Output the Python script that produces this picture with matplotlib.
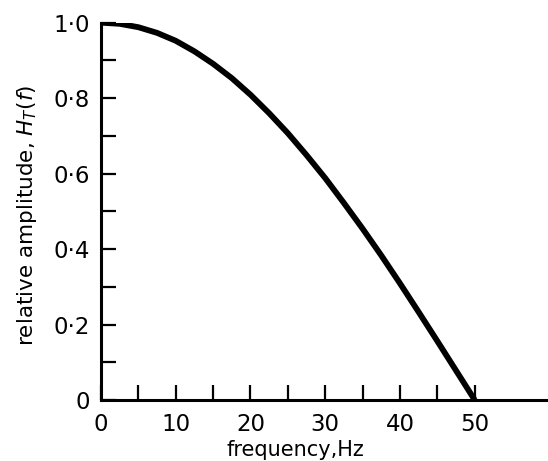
import matplotlib
matplotlib.use("Agg")
import matplotlib.pyplot as plt
from matplotlib.ticker import FixedLocator, MultipleLocator, FuncFormatter

# frequency (Hz) and relative amplitude
freq = [0, 2.5, 5, 7.5, 10, 12.5, 15, 17.5, 20, 22.5, 25,
        27.5, 30, 32.5, 35, 37.5, 40, 42.5, 45, 47.5, 50]
amp = [1.0, 0.997, 0.988, 0.973, 0.952, 0.924, 0.891, 0.853, 0.809, 0.760, 0.707,
       0.649, 0.588, 0.522, 0.454, 0.383, 0.309, 0.233, 0.156, 0.078, 0.0]

x_ticks = [0, 10, 20, 30, 40, 50]
x_minor = [5, 15, 25, 35, 45]
y_ticks = [0, 0.2, 0.4, 0.6, 0.8, 1.0]

plt.rcParams['font.family'] = ['DejaVu Sans']
plt.rcParams['mathtext.fontset'] = 'dejavusans'

fig = plt.figure(figsize=(5.48, 4.61), dpi=100)
ax = fig.add_axes([0.1843, 0.1323, 0.8157, 0.8185])

ax.plot(freq, amp, color='black', lw=4.2, solid_capstyle='butt')

ax.set_xlim(0, 59.8)
ax.set_ylim(0, 1.0)

ax.spines['top'].set_visible(False)
ax.spines['right'].set_visible(False)
for s in ('left', 'bottom'):
    ax.spines[s].set_linewidth(2.2)

ax.set_xticks(x_ticks)
ax.set_yticks(y_ticks)
ax.xaxis.set_minor_locator(FixedLocator(x_minor))
ax.yaxis.set_minor_locator(MultipleLocator(0.1))


def fmt_y(v, pos):
    if abs(v) < 1e-9:
        return '0'
    return ('%.1f' % v).replace('.', '·')


ax.yaxis.set_major_formatter(FuncFormatter(fmt_y))
ax.tick_params(which='both', direction='in', length=11, width=1.6)
ax.tick_params(axis='y', which='major', labelsize=16.5, pad=8)
ax.tick_params(axis='x', which='major', labelsize=16.5, pad=9)

ax.set_xlabel('frequency,Hz', fontsize=15)
ax.xaxis.set_label_coords(26 / 59.8, -0.105)
ax.set_ylabel('relative amplitude, $H_T(f)$', fontsize=15.5)
ax.yaxis.set_label_coords(-0.138, 0.49)

fig.savefig('out.png', dpi=100)
